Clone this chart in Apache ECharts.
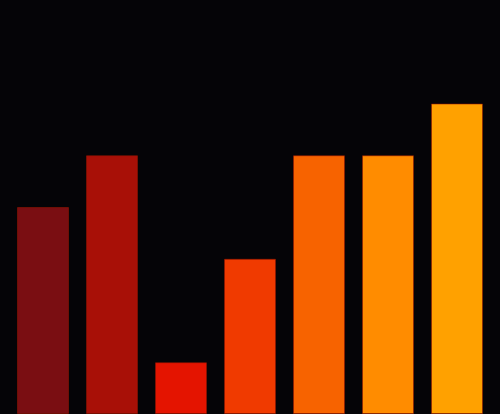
<!DOCTYPE html>
<html>
<head>
<meta charset="utf-8">
<script src="https://cdn.jsdelivr.net/npm/echarts@6/dist/echarts.min.js"></script>
<style>
  html, body { margin: 0; padding: 0; background: #050407; }
  #main { width: 500px; height: 414px; }
</style>
</head>
<body>
<div id="main"></div>
<script>
// data
var categories = ['A', 'B', 'C', 'D', 'E', 'F', 'G'];
var values = [4, 5, 1, 3, 5, 5, 6];
var barColors = ['#7a0e12', '#a81007', '#e41400', '#f03a00', '#f76300', '#ff8c00', '#ffa100'];

var chart = echarts.init(document.getElementById('main'));

var options = {
    backgroundColor: '#050407',
    animation: false,
    grid: { left: 8.5, right: 8.5, top: 0, bottom: 0, containLabel: false },
    xAxis: {
        type: 'category',
        data: categories,
        show: false
    },
    yAxis: {
        type: 'value',
        min: 0,
        max: 8,
        show: false,
        splitLine: { show: false }
    },
    series: [{
        type: 'bar',
        barWidth: 52,
        data: values.map(function (v, i) {
            return {
                value: v,
                itemStyle: {
                    color: barColors[i],
                    borderColor: 'rgba(150,20,0,0.55)',
                    borderWidth: 1
                }
            };
        })
    }]
};

chart.setOption(options);
</script>
</body>
</html>
